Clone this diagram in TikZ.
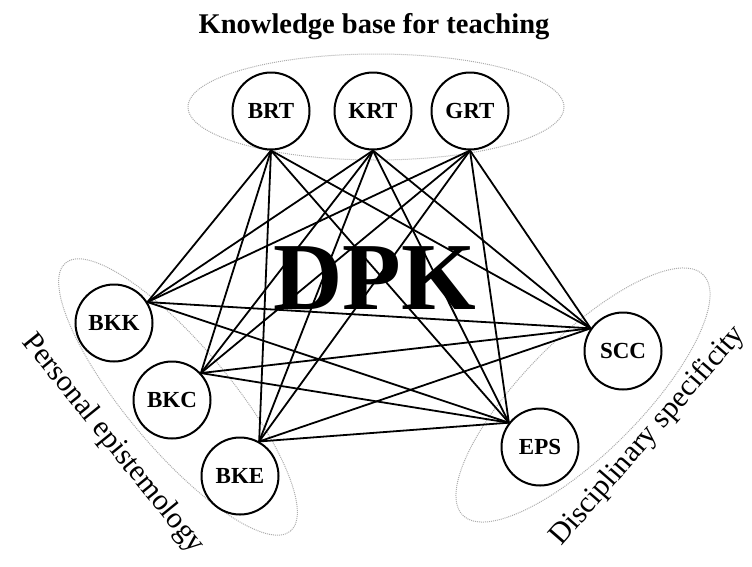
\documentclass[tikz,border=0pt]{standalone}
\usepackage{fontspec}
\setmainfont{Liberation Serif}
\usetikzlibrary{shapes.geometric}
\begin{document}
\begin{tikzpicture}[x=1pt,y=-1pt,
  kn/.style={circle, draw=black, fill=white, line width=2pt, minimum size=77pt, inner sep=0pt,
             font=\fontsize{23}{26}\selectfont\bfseries},
  grp/.style={ellipse, draw=gray!65, densely dotted, line width=1pt, inner sep=0pt},
  link/.style={line width=1.8pt, draw=black},
  glabel/.style={font=\fontsize{30}{36}\selectfont, inner sep=0pt}
]
\useasboundingbox (0,0) rectangle (752,566);

% group ellipses
\node[grp, minimum width=376pt, minimum height=106pt] (grpTop) at (376,107) {};
\node[grp, minimum width=350pt, minimum height=104pt, rotate=-50] (grpLeft) at (178,397) {};
\node[grp, minimum width=340pt, minimum height=116pt, rotate=45] (grpRight) at (583,395) {};

% knowledge nodes
\node[kn] (BRT) at (271,111) {BRT};
\node[kn] (KRT) at (373,111) {KRT};
\node[kn] (GRT) at (470,111) {GRT};
\node[kn] (BKK) at (114,323) {BKK};
\node[kn] (BKC) at (172,400) {BKC};
\node[kn] (BKE) at (240,476) {BKE};
\node[kn] (SCC) at (623,351) {SCC};
\node[kn] (EPS) at (540,447) {EPS};

% connectors
\foreach \t in {BRT,KRT,GRT}{
  \draw[link] (\t.south) -- (BKK.32);
  \draw[link] (\t.south) -- (BKC.43);
  \draw[link] (\t.south) -- (BKE.61);
  \draw[link] (\t.south) -- (SCC.145);
  \draw[link] (\t.south) -- (EPS.142);
}
\foreach \l/\a in {BKK/32,BKC/43,BKE/61}{
  \draw[link] (\l.\a) -- (SCC.145);
  \draw[link] (\l.\a) -- (EPS.142);
}

% central label
\node[font=\fontsize{96}{100}\selectfont\bfseries, anchor=base, inner sep=0pt] (DPK) at (375,309) {DPK};

% titles
\node[font=\fontsize{28.5}{34}\selectfont\bfseries, anchor=base, inner sep=0pt] (title) at (374,33) {Knowledge base for teaching};
\node[glabel, rotate=-51] (lblPE) at (113,444) {Personal epistemology};
\node[glabel, rotate=49] (lblDS) at (648,436) {Disciplinary specificity};
\end{tikzpicture}
\end{document}
